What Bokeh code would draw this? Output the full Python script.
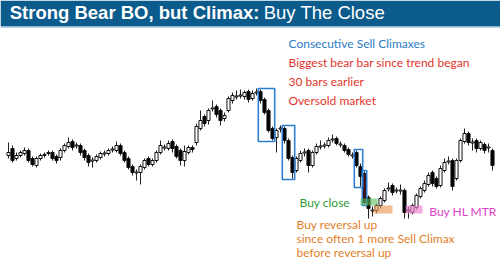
from bokeh.plotting import figure
from bokeh.models import Range1d, Label, ColumnDataSource
from bokeh.embed import file_html
from bokeh.resources import INLINE

# price bars (arbitrary price units)
opens = [95,102,92,95,97,100,92,85,92,95,97,98,94,93,100,104,109,105,105,100,
         95,90,90,93,97,97,101,100,105,98,92,84,78,78,83,92,86,90,98,103,
         102,109,104,100,90,98,103,108,122,134,130,142,144,140,132,140,150,154,155,154,
         159,152,158,159,151,140,122,113,122,122,110,93,80,90,98,100,85,98,104,105,
         105,111,112,106,105,101,95,98,84,77,53,40,40,45,50,62,65,60,60,60,
         40,38,43,54,60,66,78,72,65,80,89,90,72,90,109,117,108,110,102,106,
         103,100]
highs = [108,105,98,100,103,102,94,94,97,98,100,100,96,102,107,113,111,108,107,102,
         97,93,96,99,100,102,104,109,107,100,94,86,81,86,92,94,92,100,110,106,
         110,111,106,102,105,105,105,127,140,136,142,150,146,142,138,154,158,160,161,160,
         161,160,162,161,153,142,124,122,125,124,112,95,94,100,102,102,100,107,110,108,
         113,116,114,109,107,103,98,100,87,79,55,44,47,54,62,68,67,63,66,62,
         44,47,57,64,70,78,80,74,85,92,94,92,92,112,122,119,112,112,110,108,
         107,102]
lows = [92,88,90,93,95,88,84,83,90,93,95,90,87,90,98,102,100,102,95,90,
        84,83,88,91,94,95,98,98,95,88,81,75,70,66,81,84,84,88,96,100,
        100,98,92,85,84,96,98,105,120,124,126,139,133,125,129,138,147,151,152,151,
        148,150,155,147,136,118,110,98,118,107,90,72,78,88,94,78,83,96,101,102,
        103,108,105,103,98,94,92,83,64,46,32,34,37,42,48,59,55,57,56,32,
        32,36,41,52,58,64,64,62,63,78,86,60,70,88,107,105,100,98,100,97,
        98,80]
closes = [98,90,95,98,100,90,86,92,95,96,98,92,90,100,105,108,103,105,98,93,
          88,90,94,97,97,100,101,105,97,90,83,78,78,84,90,86,90,98,105,103,
          107,102,94,90,99,103,101,124,130,127,140,142,136,130,135,152,155,154,155,158,
          151,157,158,150,138,120,112,120,122,110,92,78,92,97,98,85,98,104,104,105,
          110,111,107,106,100,96,95,85,74,48,42,40,45,52,60,62,58,60,60,38,
          40,45,55,62,67,75,67,64,82,88,89,64,90,110,117,108,108,102,108,100,
          103,85]

climax_boxes = [(63, 66), (69, 71), (87, 88), (89, 89)]
big_bear = 89

n = len(opens)
xs = list(range(n))
tops, bottoms, fills = [], [], []
for i in range(n):
    o, c = opens[i], closes[i]
    t, b = max(o, c), min(o, c)
    if t - b < 1:
        t += 0.5
        b -= 0.5
    tops.append(t)
    bottoms.append(b)
    if i == big_bear:
        fills.append("#4a0e08")
    else:
        fills.append("white" if c >= o else "black")

src = ColumnDataSource(dict(x=xs, top=tops, bottom=bottoms, high=highs, low=lows, fill=fills))

p = figure(width=500, height=261, output_backend="svg", toolbar_location=None,
           x_range=Range1d(-2, 123), y_range=Range1d(-11, 250),
           min_border=0, min_border_left=0, min_border_right=0,
           min_border_top=0, min_border_bottom=0)
p.xaxis.visible = False
p.yaxis.visible = False
p.grid.visible = False
p.outline_line_color = None
p.background_fill_color = "white"
p.border_fill_color = "white"

# banner
p.quad(left=[-2], right=[123], bottom=[224], top=[250], fill_color="#0b5b8c", line_color=None)
p.quad(left=[-2], right=[123], bottom=[222.8], top=[224], fill_color="#9cc6df", line_color=None)

# wicks and bodies
p.segment(x0="x", y0="low", x1="x", y1="high", source=src, line_color="#222222", line_width=1)
p.vbar(x="x", top="top", bottom="bottom", width=0.78, source=src,
       fill_color="fill", line_color="#111111", line_width=1)

# highlight boxes (computed from bar ranges)
for a, b in climax_boxes:
    hi = max(highs[a:b + 1]) + 1
    lo = min(lows[a:b + 1]) - 1
    p.quad(left=[a - 0.55], right=[b + 0.55], bottom=[lo], top=[hi],
           fill_color=None, line_color="#2e7fd0", line_width=1.6)

p.quad(left=[88.0], right=[92.3], bottom=[45], top=[52], fill_color="#5cbf5c",
       fill_alpha=0.6, line_color=None)
p.quad(left=[91.3], right=[96.0], bottom=[37], top=[45], fill_color="#e89a5a",
       fill_alpha=0.65, line_color=None)
p.quad(left=[99.3], right=[103.5], bottom=[37], top=[45], fill_color="#f07fd0",
       fill_alpha=0.65, line_color=None)

# title
p.add_layout(Label(x=0.3, y=238, text="Strong Bear BO, but Climax:", text_color="white",
                   text_font="Liberation Sans", text_font_style="bold",
                   text_font_size="18.5px", text_baseline="middle"))
p.add_layout(Label(x=63.8, y=238, text="Buy The Close", text_color="white",
                   text_font="Liberation Sans", text_font_size="18.5px",
                   text_baseline="middle"))

ann_font = "Lato"
ann_size = "12px"
p.add_layout(Label(x=70, y=207, text="Consecutive Sell Climaxes", text_color="#2b7cc4",
                   text_font=ann_font, text_font_size=ann_size, text_baseline="middle"))
for yy, t in [(188, "Biggest bear bar since trend began"), (169, "30 bars earlier"),
              (150, "Oversold market")]:
    p.add_layout(Label(x=70, y=yy, text=t, text_color="#e2352b",
                       text_font=ann_font, text_font_size=ann_size, text_baseline="middle"))
p.add_layout(Label(x=72.75, y=48, text="Buy close", text_color="#2f9a38",
                   text_font=ann_font, text_font_size=ann_size, text_baseline="middle"))
for yy, t in [(26, "Buy reversal up"), (12, "since often 1 more Sell Climax"),
              (-2, "before reversal up")]:
    p.add_layout(Label(x=72, y=yy, text=t, text_color="#df7f2a",
                       text_font=ann_font, text_font_size=ann_size, text_baseline="middle"))
p.add_layout(Label(x=105.2, y=39, text="Buy HL MTR", text_color="#dc3fc8",
                   text_font=ann_font, text_font_size=ann_size, text_baseline="middle"))

open("out.html", "w").write(file_html(p, INLINE))
